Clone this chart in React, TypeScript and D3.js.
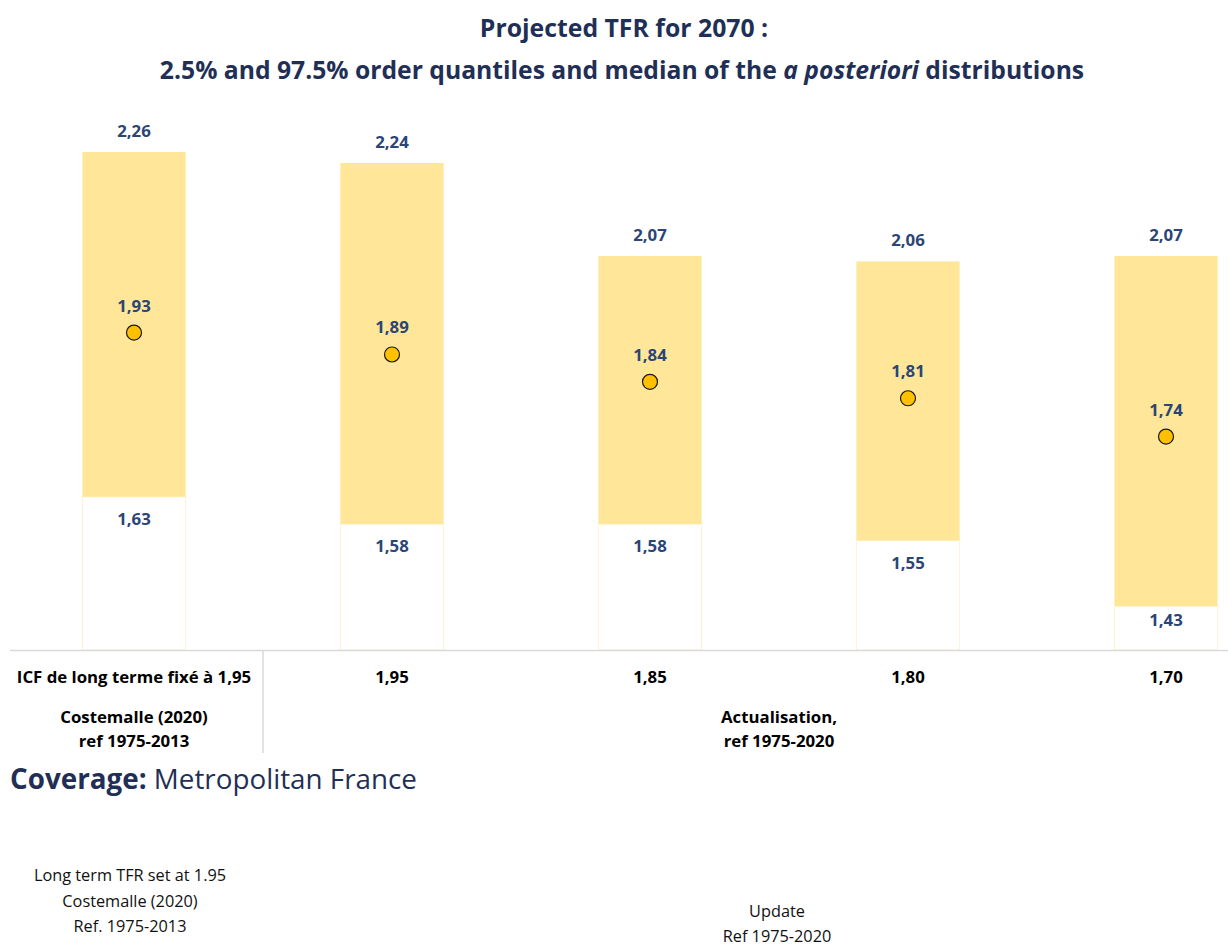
import React from "react";
import * as d3 from "d3";

const categories = ["ICF de long terme fixé à 1,95", "1,95", "1,85", "1,80", "1,70"];
const lower = [1.63, 1.58, 1.58, 1.55, 1.43];
const median = [1.93, 1.89, 1.84, 1.81, 1.74];
const upper = [2.26, 2.24, 2.07, 2.06, 2.07];
const groupLeft = ["Costemalle (2020)", "ref 1975-2013"];
const groupRight = ["Actualisation,", "ref 1975-2020"];
const noteLeft = ["Long term TFR set at 1.95", "Costemalle (2020)", "Ref. 1975-2013"];
const noteRight = ["Update", "Ref 1975-2020"];

const W = 1228;
const H = 947;
const FONT = "'Open Sans', 'Noto Sans', sans-serif";
const NAVY = "#1f2f55";
const LABEL = "#2a4576";

const fmt = (v: number) => d3.format(".2f")(v).replace(".", ",");

export default function App() {
  const idx = categories.map((_, i) => i);
  const x = d3.scaleBand<number>().domain(idx).range([5, 1295]).paddingInner(0.6).paddingOuter(0.3);
  const y = d3.scaleLinear().domain([1.35, 2.26]).range([650, 152]);
  const bw = x.bandwidth();
  const cx = (i: number) => (x(i) as number) + bw / 2;
  const sepX = 263;
  const rightCenter = (sepX + 1295) / 2;
  const base = y(1.35);
  const LS = 16.8;

  return (
    <svg width={W} height={H} style={{ position: "absolute", left: 0, top: 0, fontFamily: FONT }}>
      <rect width={W} height={H} fill="#fff" />
      <text x={624} y={37} textAnchor="middle" fontWeight="bold" fontSize={24.8} fill={NAVY}>
        Projected TFR for 2070 :
      </text>
      <text x={622} y={79} textAnchor="middle" fontWeight="bold" fontSize={24.7} fill={NAVY}>
        2.5% and 97.5% order quantiles and median of the <tspan fontStyle="italic">a posteriori</tspan> distributions
      </text>

      {idx.map((i) => (
        <g key={i}>
          <rect x={x(i)} y={y(lower[i])} width={bw} height={base - y(lower[i])} fill="#fff" stroke="#fff3d6" strokeWidth={1} />
          <rect x={x(i)} y={y(upper[i])} width={bw} height={y(lower[i]) - y(upper[i])} fill="#ffe699" />
          <text x={cx(i)} y={y(upper[i]) - 15} textAnchor="middle" fontWeight="bold" fontSize={LS} fill={LABEL}>
            {fmt(upper[i])}
          </text>
          <text x={cx(i)} y={Math.min(y(lower[i]) + 28, base - 24)} textAnchor="middle" fontWeight="bold" fontSize={LS} fill={LABEL}>
            {fmt(lower[i])}
          </text>
          <text x={cx(i)} y={y(median[i]) - 21} textAnchor="middle" fontWeight="bold" fontSize={LS} fill={LABEL}>
            {fmt(median[i])}
          </text>
          <circle cx={cx(i)} cy={y(median[i])} r={7.5} fill="#ffc000" stroke="#1a1a1a" strokeWidth={1.2} />
          <text x={cx(i)} y={683} textAnchor="middle" fontWeight="bold" fontSize={LS} fill="#000">
            {categories[i]}
          </text>
        </g>
      ))}

      <line x1={10} x2={W} y1={650.5} y2={650.5} stroke="#d9d9d9" strokeWidth={1.5} />
      <line x1={sepX} x2={sepX} y1={651} y2={753} stroke="#d9d9d9" strokeWidth={1.5} />

      {groupLeft.map((t, k) => (
        <text key={"gl" + k} x={cx(0)} y={723 + k * 24} textAnchor="middle" fontWeight="bold" fontSize={LS} fill="#000">
          {t}
        </text>
      ))}
      {groupRight.map((t, k) => (
        <text key={"gr" + k} x={rightCenter} y={723 + k * 24} textAnchor="middle" fontWeight="bold" fontSize={LS} fill="#000">
          {t}
        </text>
      ))}

      <text x={10} y={789} fontSize={27.8} fill={NAVY}>
        <tspan fontWeight="bold">Coverage:</tspan> Metropolitan France
      </text>

      {noteLeft.map((t, k) => (
        <text key={"nl" + k} x={130} y={881 + k * 25.5} textAnchor="middle" fontSize={16.3} fill="#111">
          {t}
        </text>
      ))}
      {noteRight.map((t, k) => (
        <text key={"nr" + k} x={777} y={917 + k * 24.5} textAnchor="middle" fontSize={16.3} fill="#111">
          {t}
        </text>
      ))}
    </svg>
  );
}
